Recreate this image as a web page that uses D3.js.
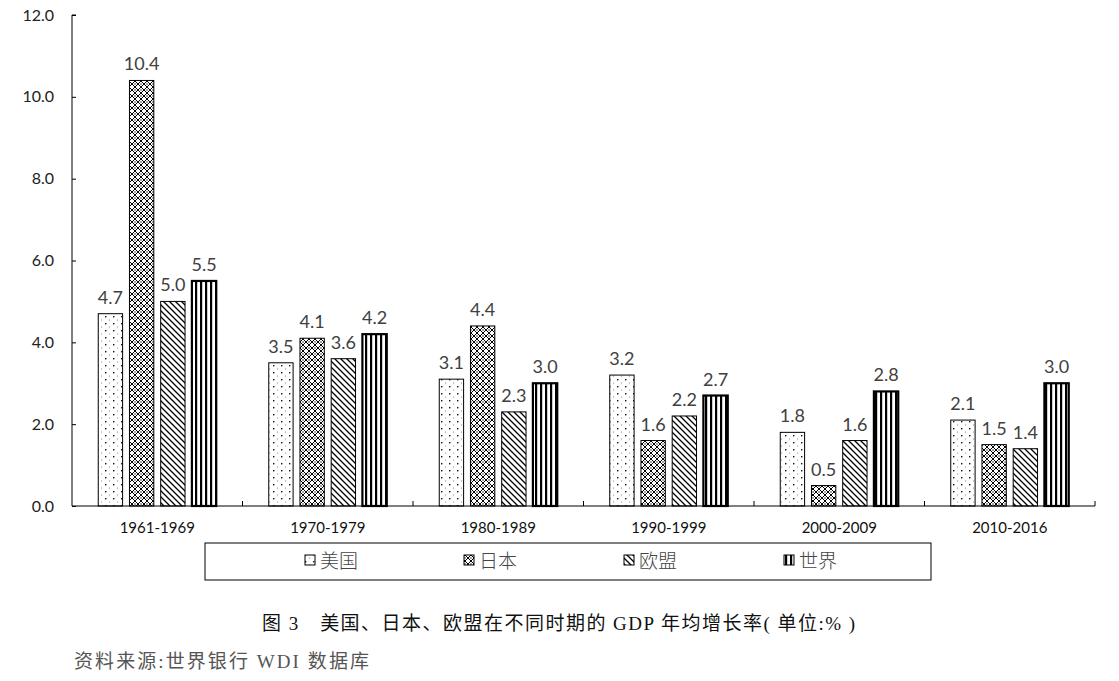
<!DOCTYPE html>
<html><head><meta charset="utf-8">
<script src="https://cdn.jsdelivr.net/npm/d3@7"></script>
<style>body{margin:0;background:#fff}svg{display:block}</style>
</head><body>
<svg id="c" width="1119" height="681"></svg>
<script>
const categories = ["1961-1969","1970-1979","1980-1989","1990-1999","2000-2009","2010-2016"];
const seriesNames = ["美国","日本","欧盟","世界"];
const usa   = [4.7,3.5,3.1,3.2,1.8,2.1];
const japan = [10.4,4.1,4.4,1.6,0.5,1.5];
const eu    = [5.0,3.6,2.3,2.2,1.6,1.4];
const world = [5.5,4.2,3.0,2.7,2.8,3.0];
const yTicks = [0,2,4,6,8,10,12];
const caption = "图 3　美国、日本、欧盟在不同时期的 GDP 年均增长率( 单位:% )";
const source = "资料来源:世界银行 WDI 数据库";

const series = [usa, japan, eu, world];
const svg = d3.select("#c");
const defs = svg.append("defs");

// patterns
const pUsa = defs.append("pattern").attr("id","p0").attr("patternUnits","userSpaceOnUse").attr("width",8).attr("height",7);
pUsa.append("rect").attr("width",8).attr("height",7).attr("fill","#fff");
pUsa.append("rect").attr("x",1).attr("y",1).attr("width",1.4).attr("height",1.4).attr("fill","#111");
pUsa.append("rect").attr("x",5).attr("y",4.5).attr("width",1.1).attr("height",1.1).attr("fill","#999");

const pJp = defs.append("pattern").attr("id","p1").attr("patternUnits","userSpaceOnUse").attr("width",6).attr("height",6);
pJp.append("rect").attr("width",6).attr("height",6).attr("fill","#fff");
pJp.append("path").attr("d","M0,0L6,6M6,0L0,6").attr("stroke","#000").attr("stroke-width",1);
pJp.append("rect").attr("x",2.4).attr("y",-0.6).attr("width",1.2).attr("height",1.2).attr("fill","#000");
pJp.append("rect").attr("x",2.4).attr("y",5.4).attr("width",1.2).attr("height",1.2).attr("fill","#000");

const pEu = defs.append("pattern").attr("id","p2").attr("patternUnits","userSpaceOnUse").attr("width",6).attr("height",6);
pEu.append("rect").attr("width",6).attr("height",6).attr("fill","#fff");
pEu.append("path").attr("d","M-1,-1L7,7M-1,5L1,7M5,-1L7,1").attr("stroke","#000").attr("stroke-width",1.3);

const pW = defs.append("pattern").attr("id","p3").attr("patternUnits","userSpaceOnUse").attr("width",5).attr("height",5);
pW.append("rect").attr("width",5).attr("height",5).attr("fill","#fff");
pW.append("rect").attr("x",0).attr("width",2.2).attr("height",5).attr("fill","#000");

const fills = ["url(#p0)","url(#p1)","url(#p2)","url(#p3)"];
const strokeW = [1,1,1,2.2];

const x0 = 72, x1 = 1095, yTop = 15, yBot = 506;
const groupW = 118;
const y = d3.scaleLinear().domain([0,12]).range([yBot,yTop]);
const xb = d3.scaleBand().domain(categories).range([x0,x1]);
const xs = d3.scaleBand().domain(d3.range(4)).range([0,groupW]).paddingInner(0.22);

// bars
categories.forEach((c,ci)=>{
  const gx = xb(c) + (xb.bandwidth()-groupW)/2;
  series.forEach((s,si)=>{
    const v = s[ci];
    svg.append("rect")
      .attr("x", gx + xs(si)).attr("y", y(v))
      .attr("width", xs.bandwidth()).attr("height", y(0)-y(v))
      .attr("fill", fills[si]).attr("stroke","#000").attr("stroke-width",strokeW[si]);
    svg.append("text")
      .attr("x", gx + xs(si) + xs.bandwidth()/2).attr("y", y(v)-10)
      .attr("text-anchor","middle").attr("font-family","Lato, 'Open Sans', sans-serif")
      .attr("font-size",18).attr("fill","#404040").text(v.toFixed(1));
  });
});

// y axis
const yAxis = d3.axisRight(y).tickValues(yTicks).tickSize(4).tickFormat("");
const ya = svg.append("g").attr("transform",`translate(${x0},0)`).call(yAxis);
ya.select(".domain").attr("d",`M4,${yTop}H0V${yBot}`).attr("stroke","#000");
ya.selectAll(".tick line").attr("stroke","#000");
yTicks.forEach(t=>{
  svg.append("text").attr("x",54).attr("y",y(t)+5.5).attr("text-anchor","end")
    .attr("font-family","Lato, 'Open Sans', sans-serif").attr("font-size",16).attr("fill","#222")
    .text(t.toFixed(1));
});

// x axis
svg.append("line").attr("x1",x0).attr("x2",x1).attr("y1",yBot).attr("y2",yBot).attr("stroke","#000");
categories.forEach((c,i)=>{
  svg.append("line").attr("x1",xb(c)+xb.bandwidth()).attr("x2",xb(c)+xb.bandwidth())
    .attr("y1",yBot).attr("y2",yBot-5).attr("stroke","#000");
  svg.append("text").attr("x",xb(c)+xb.bandwidth()/2).attr("y",533).attr("text-anchor","middle")
    .attr("font-family","Lato, 'Open Sans', sans-serif").attr("font-size",15).attr("fill","#111").text(c);
});

// legend
svg.append("rect").attr("x",205).attr("y",543).attr("width",726).attr("height",37)
  .attr("fill","none").attr("stroke","#000").attr("stroke-width",1);
const legX = [305,464,624,784];
seriesNames.forEach((n,i)=>{
  svg.append("rect").attr("x",legX[i]).attr("y",555).attr("width",10).attr("height",10)
    .attr("fill",fills[i]).attr("stroke","#000").attr("stroke-width",1);
  svg.append("text").attr("x",legX[i]+15).attr("y",568)
    .attr("font-family","'Noto Sans CJK SC', sans-serif").attr("font-weight",300).attr("font-size",19).attr("fill","#444").text(n);
});

// caption
svg.append("text").attr("x",262).attr("y",630)
  .attr("font-family","'Liberation Serif', 'Noto Sans CJK SC', serif").attr("font-size",19).attr("fill","#111")
  .attr("textLength",593).attr("lengthAdjust","spacing").text(caption);
svg.append("text").attr("x",74).attr("y",668)
  .attr("font-family","'Liberation Serif', 'Noto Sans CJK SC', serif").attr("font-size",19).attr("fill","#555")
  .attr("textLength",295).attr("lengthAdjust","spacing").text(source);
</script>
</body></html>
